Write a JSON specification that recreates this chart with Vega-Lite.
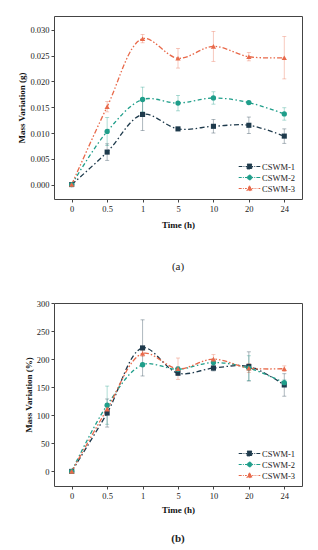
{
  "$schema": "https://vega.github.io/schema/vega-lite/v6.json",
  "padding": {"left": 17, "top": 15, "right": 5, "bottom": 5},
  "background": "white",
  "spacing": 26,
  "datasets": {
    "g": [
      {"t": "0", "s": "CSWM-1", "v": 0, "e": 0},
      {"t": "0.5", "s": "CSWM-1", "v": 0.0063, "e": 0.0016},
      {"t": "1", "s": "CSWM-1", "v": 0.0136, "e": 0.0031},
      {"t": "5", "s": "CSWM-1", "v": 0.0108, "e": 0.0003},
      {"t": "10", "s": "CSWM-1", "v": 0.0113, "e": 0.0013},
      {"t": "20", "s": "CSWM-1", "v": 0.0115, "e": 0.0016},
      {"t": "24", "s": "CSWM-1", "v": 0.0094, "e": 0.0014},
      {"t": "0", "s": "CSWM-2", "v": 0, "e": 0},
      {"t": "0.5", "s": "CSWM-2", "v": 0.0103, "e": 0.0027},
      {"t": "1", "s": "CSWM-2", "v": 0.0165, "e": 0.0024},
      {"t": "5", "s": "CSWM-2", "v": 0.0158, "e": 0.0015},
      {"t": "10", "s": "CSWM-2", "v": 0.0168, "e": 0.0012},
      {"t": "20", "s": "CSWM-2", "v": 0.0159, "e": 0.0003},
      {"t": "24", "s": "CSWM-2", "v": 0.0137, "e": 0.0012},
      {"t": "0", "s": "CSWM-3", "v": 0, "e": 0},
      {"t": "0.5", "s": "CSWM-3", "v": 0.0151, "e": 0.0010},
      {"t": "1", "s": "CSWM-3", "v": 0.0283, "e": 0.0008},
      {"t": "5", "s": "CSWM-3", "v": 0.0245, "e": 0.0019},
      {"t": "10", "s": "CSWM-3", "v": 0.0268, "e": 0.0029},
      {"t": "20", "s": "CSWM-3", "v": 0.0248, "e": 0.0008},
      {"t": "24", "s": "CSWM-3", "v": 0.0246, "e": 0.0041}
    ],
    "pct": [
      {"t": "0", "s": "CSWM-1", "v": 0, "e": 0},
      {"t": "0.5", "s": "CSWM-1", "v": 104, "e": 25},
      {"t": "1", "s": "CSWM-1", "v": 220, "e": 50},
      {"t": "5", "s": "CSWM-1", "v": 175, "e": 4},
      {"t": "10", "s": "CSWM-1", "v": 184, "e": 5},
      {"t": "20", "s": "CSWM-1", "v": 187, "e": 26},
      {"t": "24", "s": "CSWM-1", "v": 154, "e": 20},
      {"t": "0", "s": "CSWM-2", "v": 0, "e": 0},
      {"t": "0.5", "s": "CSWM-2", "v": 118, "e": 34},
      {"t": "1", "s": "CSWM-2", "v": 190, "e": 3},
      {"t": "5", "s": "CSWM-2", "v": 182, "e": 5},
      {"t": "10", "s": "CSWM-2", "v": 194, "e": 6},
      {"t": "20", "s": "CSWM-2", "v": 184, "e": 22},
      {"t": "24", "s": "CSWM-2", "v": 158, "e": 5},
      {"t": "0", "s": "CSWM-3", "v": 0, "e": 0},
      {"t": "0.5", "s": "CSWM-3", "v": 111, "e": 10},
      {"t": "1", "s": "CSWM-3", "v": 210, "e": 5},
      {"t": "5", "s": "CSWM-3", "v": 183, "e": 19},
      {"t": "10", "s": "CSWM-3", "v": 200, "e": 8},
      {"t": "20", "s": "CSWM-3", "v": 184, "e": 8},
      {"t": "24", "s": "CSWM-3", "v": 183, "e": 5}
    ]
  },
  "resolve": {
    "scale": {"x": "independent", "y": "independent", "color": "independent", "strokeDash": "independent"},
    "legend": {"color": "independent"}
  },
  "vconcat": [
    {
      "width": 248,
      "height": 183,
      "data": {"name": "g"},
      "title": {"text": "(a)", "orient": "bottom", "offset": 31, "font": "Liberation Serif", "fontSize": 11, "fontWeight": "normal", "color": "#222"},
      "encoding": {
        "x": {"field": "t", "type": "ordinal", "sort": ["0", "0.5", "1", "5", "10", "20", "24"], "scale": {"type": "point", "padding": 0.5}, "axis": {"title": "Time (h)", "labelAngle": 0}},
        "y": {"field": "v", "type": "quantitative", "scale": {"domain": [-0.0028, 0.0327], "nice": false, "zero": false}, "axis": {"title": "Mass Variation (g)", "values": [0, 0.005, 0.01, 0.015, 0.02, 0.025, 0.03], "format": ".3f"}},
        "color": {"field": "s", "type": "nominal", "scale": {"domain": ["CSWM-1", "CSWM-2", "CSWM-3"], "range": ["#1e3a4c", "#1f9e8a", "#e8694a"]},
          "legend": {"title": null, "orient": "bottom-right", "offset": 6.5, "padding": 0, "symbolSize": 144, "labelOffset": 6, "rowPadding": 0, "labelFont": "Liberation Serif", "labelFontSize": 8.5, "labelColor": "#222",
            "encode": {"symbols": {"update": {
              "shape": {"signal": "datum.value==='CSWM-1' ? 'M-1.8,0H-1.2M-1.0,0H-0.85M-0.65,0H-0.4M-0.4,-0.4H0.4V0.4H-0.4ZM0.4,0H0.6M0.8,0H0.95M1.15,0H1.8' : datum.value==='CSWM-2' ? 'M-1.8,0H-1.3M-1.1,0H-0.95M-0.75,0H-0.4M0.4,0A0.4,0.4,0,1,1,-0.4,0A0.4,0.4,0,1,1,0.4,0ZM0.4,0H0.6M0.8,0H0.95M1.15,0H1.8' : 'M-1.8,0H-1.3M-1.1,0H-0.95M-0.75,0H-0.45M0,-0.45L0.45,0.35H-0.45ZM0.45,0H0.65M0.85,0H1.0M1.2,0H1.3M1.5,0H1.8'"},
              "fill": {"signal": "datum.value==='CSWM-1' ? '#1e3a4c' : datum.value==='CSWM-2' ? '#1f9e8a' : '#e8694a'"},
              "stroke": {"signal": "datum.value==='CSWM-1' ? '#1e3a4c' : datum.value==='CSWM-2' ? '#1f9e8a' : '#e8694a'"},
              "strokeWidth": {"value": 1},
              "strokeDash": {"value": [1, 0]},
              "opacity": {"value": 1}
            }}}
          }
        }
      },
      "layer": [
        {"mark": {"type": "errorbar", "ticks": {"size": 4}, "thickness": 0.8, "opacity": 0.45}, "encoding": {"yError": {"field": "e"}}},
        {"mark": {"type": "line", "interpolate": "catmull-rom", "strokeWidth": 1.3}, "encoding": {"strokeDash": {"field": "s", "type": "nominal", "scale": {"domain": ["CSWM-1", "CSWM-2", "CSWM-3"], "range": [[5, 2.5, 1.5, 2.5], [4, 2.5, 1.5, 2.5], [5, 2, 1.5, 2, 1.5, 2]]}, "legend": null}}},
        {"transform": [{"filter": "datum.s === 'CSWM-1'"}], "mark": {"type": "point", "shape": "square", "filled": true, "opacity": 1, "size": 26}},
        {"transform": [{"filter": "datum.s === 'CSWM-2'"}], "mark": {"type": "point", "shape": "circle", "filled": true, "opacity": 1, "size": 28}},
        {"transform": [{"filter": "datum.s === 'CSWM-3'"}], "mark": {"type": "point", "shape": "triangle-up", "filled": true, "opacity": 1, "size": 28}}
      ]
    },
    {
      "width": 248,
      "height": 183,
      "data": {"name": "pct"},
      "title": {"text": "(b)", "orient": "bottom", "offset": 18, "font": "Liberation Serif", "fontSize": 11, "fontWeight": "bold", "color": "#222"},
      "encoding": {
        "x": {"field": "t", "type": "ordinal", "sort": ["0", "0.5", "1", "5", "10", "20", "24"], "scale": {"type": "point", "padding": 0.5}, "axis": {"title": "Time (h)", "labelAngle": 0, "titlePadding": 6}},
        "y": {"field": "v", "type": "quantitative", "scale": {"domain": [-26, 300], "nice": false, "zero": false}, "axis": {"title": "Mass Variation (%)", "values": [0, 50, 100, 150, 200, 250, 300]}},
        "color": {"field": "s", "type": "nominal", "scale": {"domain": ["CSWM-1", "CSWM-2", "CSWM-3"], "range": ["#1e3a4c", "#1f9e8a", "#e8694a"]},
          "legend": {"title": null, "orient": "bottom-right", "offset": 6, "padding": 0, "symbolSize": 144, "labelOffset": 6, "rowPadding": 0, "labelFont": "Liberation Serif", "labelFontSize": 8.5, "labelColor": "#222",
            "encode": {"symbols": {"update": {
              "shape": {"signal": "datum.value==='CSWM-1' ? 'M-1.8,0H-1.2M-1.0,0H-0.85M-0.65,0H-0.4M-0.4,-0.4H0.4V0.4H-0.4ZM0.4,0H0.6M0.8,0H0.95M1.15,0H1.8' : datum.value==='CSWM-2' ? 'M-1.8,0H-1.3M-1.1,0H-0.95M-0.75,0H-0.4M0.4,0A0.4,0.4,0,1,1,-0.4,0A0.4,0.4,0,1,1,0.4,0ZM0.4,0H0.6M0.8,0H0.95M1.15,0H1.8' : 'M-1.8,0H-1.3M-1.1,0H-0.95M-0.75,0H-0.45M0,-0.45L0.45,0.35H-0.45ZM0.45,0H0.65M0.85,0H1.0M1.2,0H1.3M1.5,0H1.8'"},
              "fill": {"signal": "datum.value==='CSWM-1' ? '#1e3a4c' : datum.value==='CSWM-2' ? '#1f9e8a' : '#e8694a'"},
              "stroke": {"signal": "datum.value==='CSWM-1' ? '#1e3a4c' : datum.value==='CSWM-2' ? '#1f9e8a' : '#e8694a'"},
              "strokeWidth": {"value": 1},
              "strokeDash": {"value": [1, 0]},
              "opacity": {"value": 1}
            }}}
          }
        }
      },
      "layer": [
        {"mark": {"type": "errorbar", "ticks": {"size": 4}, "thickness": 0.8, "opacity": 0.45}, "encoding": {"yError": {"field": "e"}}},
        {"mark": {"type": "line", "interpolate": "catmull-rom", "strokeWidth": 1.3}, "encoding": {"strokeDash": {"field": "s", "type": "nominal", "scale": {"domain": ["CSWM-1", "CSWM-2", "CSWM-3"], "range": [[5, 2.5, 1.5, 2.5], [4, 2.5, 1.5, 2.5], [5, 2, 1.5, 2, 1.5, 2]]}, "legend": null}}},
        {"transform": [{"filter": "datum.s === 'CSWM-1'"}], "mark": {"type": "point", "shape": "square", "filled": true, "opacity": 1, "size": 26}},
        {"transform": [{"filter": "datum.s === 'CSWM-2'"}], "mark": {"type": "point", "shape": "circle", "filled": true, "opacity": 1, "size": 28}},
        {"transform": [{"filter": "datum.s === 'CSWM-3'"}], "mark": {"type": "point", "shape": "triangle-up", "filled": true, "opacity": 1, "size": 28}}
      ]
    }
  ],
  "config": {
    "view": {"stroke": "#444", "strokeWidth": 1},
    "axis": {"domain": false, "grid": false, "tickColor": "#444", "tickSize": 3, "labelFont": "Liberation Serif", "labelFontSize": 8.5, "labelColor": "#222", "labelPadding": 2, "titleFont": "Liberation Serif", "titleFontSize": 9, "titleFontWeight": "bold", "titleColor": "#111"},
    "axisX": {"titlePadding": 8},
    "axisY": {"titlePadding": 3}
  }
}
